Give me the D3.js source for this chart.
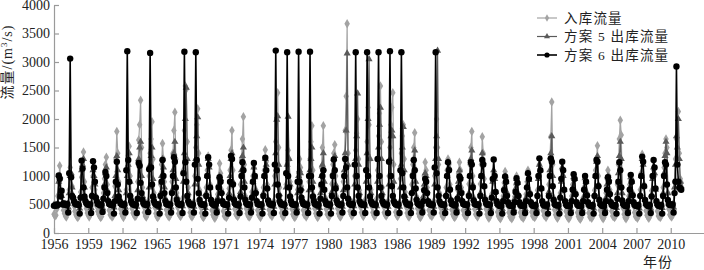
<!DOCTYPE html>
<html>
<head>
<meta charset="utf-8">
<script src="https://cdn.jsdelivr.net/npm/d3@7"></script>
<style>
  body { margin: 0; background: #fff; }
  text { font-family: "Liberation Serif", "DejaVu Serif", "Noto Sans CJK SC", serif; fill: #222; }
</style>
</head>
<body>
<svg id="chart" width="704" height="270"></svg>
<script>
// ── Data: monthly flows (m3/s), one row per year, Jan..Dec ────────────────
const firstYear = 1956;

const inflow = [
  [330,300,310,420,650,900,1180,950,700,520,400,340],
  [300,280,350,500,760,1150,1000,820,640,480,380,320],
  [290,270,300,460,720,980,1250,1420,900,620,430,350],
  [310,280,320,520,800,1000,880,760,600,470,380,330],
  [300,270,290,430,700,950,1200,1330,850,560,400,320],
  [310,280,300,480,820,1300,1780,1400,900,600,420,340],
  [300,270,310,450,760,1100,1350,1520,1000,650,430,350],
  [320,290,300,500,900,1630,1900,2330,1500,800,480,360],
  [300,280,320,560,1000,1400,1650,1950,1300,700,450,340],
  [290,270,300,470,850,1200,1570,1300,900,600,410,330],
  [300,280,310,520,900,1400,1800,2120,1300,700,450,340],
  [310,290,320,600,1100,1800,2580,2520,1600,800,480,360],
  [300,280,310,550,1000,1500,1900,2180,1400,750,460,350],
  [290,270,300,480,800,1100,1350,1200,850,580,400,320],
  [280,260,290,420,680,950,1220,1050,760,520,380,300],
  [300,270,300,460,780,1100,1450,1800,1100,620,420,330],
  [310,290,320,500,850,1300,1650,2040,1200,650,430,340],
  [300,280,300,450,720,1000,1150,980,760,540,400,320],
  [300,270,310,480,800,1100,1460,1250,850,580,410,330],
  [320,290,330,560,1000,1600,2000,2460,1500,800,470,350],
  [300,280,310,500,850,1200,1450,1300,900,600,420,330],
  [290,270,300,460,760,1050,1300,1150,820,560,400,320],
  [310,280,320,520,900,1300,1600,1880,1100,650,430,340],
  [300,270,300,480,820,1150,1500,1880,1100,620,420,330],
  [310,280,320,500,860,1200,1400,1550,1000,640,430,340],
  [300,280,310,520,900,1300,1800,2400,3670,1400,600,380],
  [330,300,320,560,1000,1450,1750,2000,1300,750,460,360],
  [320,290,330,580,1100,1600,2200,1900,1300,760,470,360],
  [310,290,320,600,1100,1700,2100,2580,1600,800,480,360],
  [320,300,330,560,1000,1500,1900,2200,2460,1200,520,370],
  [310,290,320,540,950,1400,1700,1900,1300,720,460,350],
  [300,280,310,500,850,1200,1500,1760,1100,640,430,340],
  [290,270,300,460,760,1000,1240,1100,800,560,400,320],
  [310,290,320,560,1000,1500,2000,1500,1200,700,450,350],
  [300,280,310,480,800,1100,1300,1200,850,580,410,330],
  [290,270,300,460,760,1050,1240,1100,800,560,400,320],
  [300,270,310,500,860,1200,1500,1780,1000,620,420,330],
  [310,280,320,500,860,1200,1690,1400,950,620,420,330],
  [280,260,290,420,680,900,1050,950,720,500,370,300],
  [270,250,280,400,650,880,1080,950,700,480,360,290],
  [270,250,280,400,640,850,1000,900,680,480,360,290],
  [280,260,290,420,680,900,1100,960,720,500,370,300],
  [290,270,300,450,750,1000,1200,1100,800,540,390,310],
  [300,270,310,480,850,1300,1690,2300,1200,620,410,320],
  [280,260,290,430,700,950,1100,1000,760,520,380,300],
  [270,250,280,400,650,850,950,1000,720,500,360,290],
  [260,240,270,380,620,800,950,900,700,480,350,280],
  [280,260,290,440,750,1100,1300,1530,1000,600,400,310],
  [270,250,280,420,700,950,1100,1000,760,520,380,300],
  [290,270,300,480,850,1200,1650,1980,1720,800,440,330],
  [270,250,280,400,650,850,950,900,700,480,360,290],
  [280,260,290,450,760,1050,1380,1250,850,560,390,310],
  [280,260,290,440,740,1000,1100,1000,760,520,380,300],
  [290,270,300,470,800,1150,1400,1650,1500,700,420,320],
  [300,280,310,520,900,1300,1650,1500,2130,1400,950,880],
];

const scheme5 = [
  [500,490,500,480,520,900,1000,700,650,520,520,510],
  [510,500,510,450,700,1000,1050,800,650,560,520,510],
  [510,500,500,430,650,1100,1200,1300,800,600,530,510],
  [510,500,500,440,680,1100,1000,850,650,560,520,510],
  [500,490,500,440,620,850,1050,1150,750,580,520,510],
  [500,490,500,450,650,1000,1350,1100,750,580,520,510],
  [510,500,510,450,700,1000,1200,1400,900,620,530,510],
  [510,500,510,460,750,1300,1500,1600,1000,650,540,510],
  [510,500,510,460,800,1200,1350,1500,950,640,530,510],
  [500,490,500,440,700,1000,1300,1150,800,600,520,510],
  [510,500,510,450,750,1100,1400,1600,950,640,530,510],
  [510,500,510,470,900,1400,2000,2550,1300,700,540,510],
  [510,500,510,460,850,1300,1700,2030,1200,680,540,510],
  [500,490,500,440,700,1000,1300,1150,800,600,520,510],
  [500,490,500,430,620,850,1000,950,720,560,520,500],
  [500,490,500,440,700,1000,1300,1400,900,620,530,510],
  [510,500,510,450,720,1100,1350,1500,900,620,530,510],
  [500,490,500,440,650,900,1150,980,740,560,520,500],
  [500,490,500,440,700,1000,1300,1200,800,580,520,500],
  [510,500,510,460,850,1400,1990,2050,1200,680,540,510],
  [510,500,510,450,800,1200,2040,1300,850,600,530,510],
  [500,490,500,440,700,1000,1100,1050,780,580,520,500],
  [510,500,510,450,750,1100,1300,1500,900,620,530,510],
  [500,490,500,440,700,1000,1200,1400,900,600,520,500],
  [510,500,510,450,720,1050,1300,1350,850,600,530,510],
  [510,500,510,460,750,1100,1400,1800,3150,1200,600,520],
  [520,510,520,470,850,1300,1700,2450,1200,700,550,520],
  [520,510,520,470,900,1400,2000,3050,1300,700,550,520],
  [520,510,520,470,900,1500,1900,2200,1300,700,550,520],
  [520,510,520,460,850,1300,1700,1800,1700,900,560,520],
  [510,500,510,460,800,1200,1500,1860,1100,650,540,510],
  [510,500,510,450,720,1050,1300,1450,900,620,530,510],
  [500,490,500,430,640,850,1050,1000,740,560,520,500],
  [510,500,510,460,850,1300,1700,3200,1300,680,540,510],
  [500,490,500,440,680,1000,1250,1150,800,590,520,500],
  [500,490,500,430,640,900,1100,1000,750,570,520,500],
  [500,490,500,440,700,1000,1300,1450,850,600,520,500],
  [500,490,500,440,700,1000,1400,1250,820,600,520,500],
  [490,480,490,430,620,900,1100,950,720,550,510,490],
  [480,470,480,420,600,800,1000,900,700,540,500,480],
  [480,470,480,420,600,780,950,880,680,540,500,480],
  [480,470,480,420,620,820,1050,930,700,540,500,480],
  [490,480,490,430,680,950,1200,1100,780,560,510,490],
  [490,480,490,440,720,1100,1400,1700,1000,600,520,490],
  [490,480,490,430,650,900,1150,1000,760,560,510,490],
  [480,470,480,420,600,800,980,950,700,540,500,480],
  [480,470,480,420,600,780,960,900,690,540,500,480],
  [480,470,490,430,680,1000,1250,1350,850,580,510,490],
  [480,470,480,420,620,850,1000,950,720,550,500,480],
  [490,480,490,440,700,1050,1350,1600,1300,700,520,490],
  [480,470,480,420,600,800,980,900,690,540,500,480],
  [480,470,490,430,680,1000,1300,1200,820,580,510,490],
  [480,470,490,430,670,950,1150,1050,760,560,510,490],
  [490,480,490,440,700,1050,1350,1600,1400,700,520,490],
  [500,490,500,450,800,1200,1700,1500,2000,1300,900,820],
];

const scheme6 = [
  [480,480,490,480,500,1010,950,640,740,500,520,500],
  [500,490,510,360,1050,3060,980,650,620,560,520,500],
  [510,500,490,340,620,1270,1130,800,640,560,520,500],
  [500,490,500,350,650,1260,1150,900,620,560,510,500],
  [500,480,500,370,600,800,1070,1000,700,560,510,500],
  [500,490,500,340,560,900,1250,850,640,560,520,500],
  [500,490,510,360,1100,3190,1280,900,650,560,520,500],
  [500,490,500,350,600,1230,1180,880,700,580,520,500],
  [500,490,510,370,1120,3160,1150,850,640,560,520,500],
  [500,480,500,340,650,900,1280,1000,700,560,510,500],
  [500,490,500,360,700,1000,1330,1250,800,580,520,500],
  [500,490,510,350,1050,3180,1240,900,650,560,520,500],
  [500,490,500,360,1200,3170,1280,950,700,580,520,500],
  [500,490,500,340,650,1000,1330,1200,800,580,520,500],
  [500,480,500,360,560,800,980,900,700,560,510,500],
  [500,490,500,340,620,900,1350,1300,850,580,520,500],
  [500,490,500,350,640,1000,1240,1100,800,580,520,500],
  [500,490,500,360,620,900,1230,1000,700,560,510,500],
  [500,490,500,340,650,1000,1320,1100,780,570,520,500],
  [500,490,510,350,1200,3200,1100,850,650,560,520,500],
  [500,490,500,350,1050,3170,1000,800,640,560,510,500],
  [500,490,500,360,900,3180,900,750,620,550,510,500],
  [500,490,500,350,1000,3180,1000,800,640,560,510,500],
  [500,480,500,340,600,850,1000,1100,760,560,510,500],
  [500,490,500,340,650,1000,1290,1100,780,570,520,500],
  [500,490,500,360,650,1000,1300,1150,800,600,520,500],
  [500,490,510,350,1200,3170,1000,800,650,560,520,500],
  [500,490,500,350,1100,3170,1000,800,640,560,520,500],
  [500,490,500,350,1300,3170,1000,800,650,560,520,500],
  [500,490,500,350,1250,3190,1000,820,650,560,520,500],
  [500,490,500,350,1100,3170,1050,800,640,560,520,500],
  [500,490,500,350,700,1000,1280,1100,780,580,520,500],
  [500,480,500,360,560,750,950,900,700,560,510,500],
  [500,490,500,360,1150,3170,1050,800,650,560,520,500],
  [500,490,500,350,650,1000,1240,1100,760,570,510,500],
  [500,480,500,360,600,800,990,950,700,560,510,500],
  [500,490,500,350,650,1000,1240,1200,800,570,510,500],
  [500,490,500,340,650,1000,1280,1200,820,580,520,500],
  [500,490,500,350,620,950,1290,1000,720,560,510,500],
  [480,470,480,340,560,750,990,900,650,540,500,480],
  [480,470,480,360,540,720,960,880,650,540,500,480],
  [480,470,480,350,560,800,1050,950,680,540,500,480],
  [480,470,490,350,650,1000,1310,1100,780,560,500,480],
  [490,480,500,340,650,1000,1310,1250,820,580,510,490],
  [490,480,490,340,620,950,1250,1100,760,560,500,480],
  [480,470,480,350,560,760,1030,950,680,540,500,480],
  [480,470,480,350,560,760,1000,900,660,540,500,480],
  [480,470,490,340,650,1000,1280,1250,820,580,510,490],
  [480,470,480,350,560,760,980,900,680,540,500,480],
  [480,470,490,340,600,900,1240,1100,800,570,510,490],
  [480,470,480,350,560,760,1020,900,660,540,500,480],
  [480,470,490,340,650,1000,1340,1250,820,580,510,490],
  [480,470,490,350,640,1000,1280,1150,780,560,500,480],
  [480,470,490,340,650,1000,1240,1200,850,580,510,490],
  [500,490,500,360,700,900,2920,1200,900,800,780,760],
];

const xTickLabels = ["1956","1959","1962","1965","1968","1971","1974","1977","1980",
  "1983","1986","1989","1992","1995","1998","2001","2004","2007","2010"];
const yTicks = [0, 500, 1000, 1500, 2000, 2500, 3000, 3500, 4000];
const legendNames = ["入库流量", "方案 5 出库流量", "方案 6 出库流量"];

// ── Scales ────────────────────────────────────────────────────────────────
const svg = d3.select("#chart");
const x = d3.scaleLinear().domain([0, 684]).range([54, 705]);
const y = d3.scaleLinear().domain([0, 4000]).range([233, 5]);
const AXIS = "#9a9a9a";

// ── Axes ──────────────────────────────────────────────────────────────────
const yAxis = svg.append("g")
  .attr("transform", "translate(54,0)")
  .call(d3.axisLeft(y).tickValues(yTicks).tickFormat(d3.format("d"))
    .tickSizeInner(-5).tickSizeOuter(0).tickPadding(4));
const xAxis = svg.append("g")
  .attr("transform", "translate(0,233)")
  .call(d3.axisBottom(x)
    .tickValues(xTickLabels.map((d, i) => i * 36))
    .tickFormat((d, i) => xTickLabels[i])
    .tickSizeInner(-5).tickSizeOuter(0).tickPadding(6));
[xAxis, yAxis].forEach((g) => {
  g.selectAll("path, line").attr("stroke", AXIS).attr("stroke-width", 1.2);
  g.selectAll("text").attr("font-size", 14).attr("font-family", "Liberation Serif, serif").attr("fill", "#222");
});

// axis titles
svg.append("text")
  .attr("transform", "translate(12,62) rotate(-90)")
  .attr("text-anchor", "middle")
  .attr("font-size", 14)
  .attr("letter-spacing", 1)
  .html('流量/(m<tspan dy="-5" font-size="9">3</tspan><tspan dy="5">/s)</tspan>');
svg.append("text")
  .attr("x", 658).attr("y", 267)
  .attr("text-anchor", "middle")
  .attr("font-size", 14)
  .attr("letter-spacing", 1)
  .text("年份");

// ── Series ────────────────────────────────────────────────────────────────
const series = [
  { name: legendNames[0], values: inflow.flat(), color: "#a3a3a3", width: 1.2, marker: "diamond" },
  { name: legendNames[1], values: scheme5.flat(), color: "#5a5a5a", width: 1.2, marker: "triangle" },
  { name: legendNames[2], values: scheme6.flat(), color: "#000", width: 1.6, marker: "circle" },
];

const line = d3.line().x((d, i) => x(i)).y((d) => y(d));
const symbols = {
  diamond: d3.symbol().type(d3.symbolDiamond).size(26),
  triangle: d3.symbol().type(d3.symbolTriangle).size(22),
};

series.forEach((s) => {
  const g = svg.append("g");
  g.append("path")
    .datum(s.values)
    .attr("fill", "none")
    .attr("stroke", s.color)
    .attr("stroke-width", s.width)
    .attr("d", line);
  if (s.marker === "circle") {
    g.selectAll("circle").data(s.values).join("circle")
      .attr("cx", (d, i) => x(i)).attr("cy", (d) => y(d))
      .attr("r", 3.2).attr("fill", s.color);
  } else {
    g.selectAll("path.m").data(s.values).join("path")
      .attr("class", "m")
      .attr("d", symbols[s.marker])
      .attr("transform", (d, i) => `translate(${x(i)},${y(d)})`)
      .attr("fill", s.color);
  }
});

// ── Legend ────────────────────────────────────────────────────────────────
const legend = svg.append("g").attr("transform", "translate(537,18)");
series.forEach((s, i) => {
  const row = legend.append("g").attr("transform", `translate(0,${i * 18.5})`);
  row.append("line").attr("x1", 0).attr("x2", 20).attr("stroke", s.color).attr("stroke-width", s.width);
  if (s.marker === "circle") {
    row.append("circle").attr("cx", 10).attr("r", 2.6).attr("fill", s.color);
  } else {
    row.append("path").attr("d", d3.symbol().type(s.marker === "diamond" ? d3.symbolDiamond : d3.symbolTriangle).size(16)())
      .attr("transform", "translate(10,0)").attr("fill", s.color);
  }
  row.append("text").attr("x", 27).attr("dy", "0.35em")
    .attr("font-size", 13.5).attr("letter-spacing", 1.2)
    .text(s.name);
});
</script>
</body>
</html>
